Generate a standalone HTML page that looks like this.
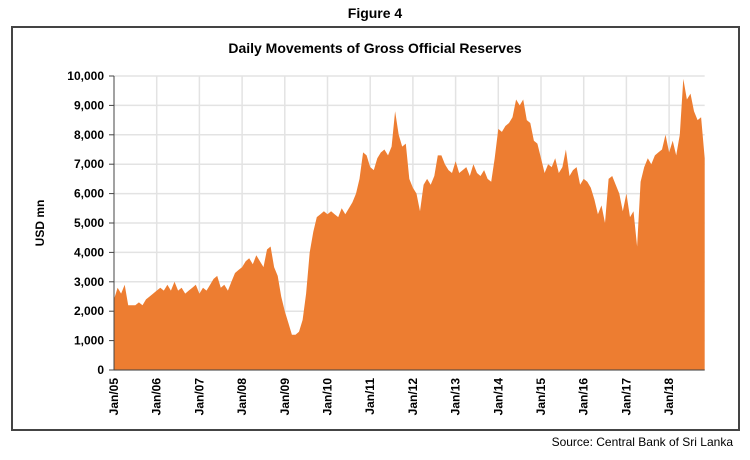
<!DOCTYPE html>
<html><head><meta charset="utf-8"><style>
body{margin:0;background:#fff;width:750px;height:455px;overflow:hidden;font-family:"Liberation Sans",sans-serif}
</style></head><body>
<svg id="chart" width="750" height="455" xmlns="http://www.w3.org/2000/svg">
<text x="375" y="18" text-anchor="middle" font-size="14" font-weight="bold">Figure 4</text>
<rect x="12" y="27" width="727" height="403" fill="none" stroke="#444" stroke-width="2"/>
<text x="375" y="53" text-anchor="middle" font-size="14" font-weight="bold">Daily Movements of Gross Official Reserves</text>
<text transform="translate(44,223) rotate(-90)" text-anchor="middle" font-size="12" font-weight="bold">USD mn</text>
<g id="grid"></g><g id="area"></g><g id="axes"></g>
<text x="733" y="446" text-anchor="end" font-size="12">Source: Central Bank of Sri Lanka</text>
</svg>
<script>
const yTicks=[0,1000,2000,3000,4000,5000,6000,7000,8000,9000,10000];
const yearLabels=["Jan/05","Jan/06","Jan/07","Jan/08","Jan/09","Jan/10","Jan/11","Jan/12","Jan/13","Jan/14","Jan/15","Jan/16","Jan/17","Jan/18"];
const reserves2005=[2400,2800,2600,2900,2200,2200,2200,2300,2200,2400,2500,2600];
const reserves2006=[2700,2800,2700,2900,2700,3000,2700,2800,2600,2700,2800,2900];
const reserves2007=[2600,2800,2700,2900,3100,3200,2800,2900,2700,3000,3300,3400];
const reserves2008=[3500,3700,3800,3600,3900,3700,3500,4100,4200,3500,3200,2500];
const reserves2009=[2000,1600,1200,1200,1300,1700,2600,4000,4700,5200,5300,5400];
const reserves2010=[5300,5400,5300,5200,5500,5300,5500,5700,6000,6500,7400,7300];
const reserves2011=[6900,6800,7200,7400,7500,7300,7600,8800,8000,7600,7700,6500];
const reserves2012=[6200,6000,5400,6300,6500,6300,6600,7300,7300,7000,6800,6700];
const reserves2013=[7100,6700,6800,6900,6600,7000,6700,6600,6800,6500,6400,7200];
const reserves2014=[8200,8100,8300,8400,8600,9200,9000,9200,8500,8400,7800,7700];
const reserves2015=[7200,6700,7000,6900,7200,6700,6900,7500,6600,6800,6900,6300];
const reserves2016=[6500,6400,6200,5800,5300,5600,5000,6500,6600,6300,6000,5400];
const reserves2017=[6000,5200,5400,4200,6400,6900,7200,7000,7300,7400,7500,8000];
const reserves2018=[7400,7800,7300,8000,9900,9200,9400,8800,8500,8600,7200];
const series=[].concat(reserves2005,reserves2006,reserves2007,reserves2008,reserves2009,reserves2010,reserves2011,reserves2012,reserves2013,reserves2014,reserves2015,reserves2016,reserves2017,reserves2018);
const X0=114,YEARW=42.7,Y0=370,YTOP=76,YMAX=10000;
const xm=m=>X0+m*YEARW/12;
const ys=v=>Y0-(v/YMAX)*(Y0-YTOP);
const NS="http://www.w3.org/2000/svg";
const grid=document.getElementById('grid'),axes=document.getElementById('axes'),area=document.getElementById('area');
function mk(t,a,p){const e=document.createElementNS(NS,t);for(const k in a)e.setAttribute(k,a[k]);p.appendChild(e);return e;}
const XEND=xm(series.length-1);
yTicks.forEach(v=>{
 const l=mk('line',{x1:X0,x2:XEND,y1:ys(v),y2:ys(v),stroke:'#e3e3e3','stroke-width':1.5},grid);
 
 
 const t=mk('text',{x:X0-10,y:ys(v)+4,'text-anchor':'end','font-size':12,'font-weight':'bold'},axes);
 t.textContent=v.toLocaleString('en-US');
 
 
 mk('line',{x1:X0-5,x2:X0,y1:ys(v),y2:ys(v),stroke:'#444'},axes);
});
yearLabels.forEach((s,i)=>{
 const x=xm(i*12);
 if(i>0){const g=mk('line',{x1:x,x2:x,y1:YTOP,y2:Y0,stroke:'#e3e3e3','stroke-width':1.5},grid);
 
 }
 const t=mk('text',{transform:`translate(${x+4},${Y0+8}) rotate(-90)`,'text-anchor':'end','font-size':12,'font-weight':'bold'},axes);
 t.textContent=s;
 
 
});
let d=`M${X0},${Y0}`;
series.forEach((v,i)=>{d+=`L${xm(i).toFixed(1)},${ys(v).toFixed(1)}`;});
d+=`L${XEND},${Y0}Z`;
const p=mk('path',{d:d,fill:'#ed7d31'},area);


mk('line',{x1:X0,x2:X0,y1:YTOP,y2:Y0,stroke:'#444'},axes);
mk('line',{x1:X0,x2:XEND,y1:Y0,y2:Y0,stroke:'#444'},axes);
</script>
</body></html>
